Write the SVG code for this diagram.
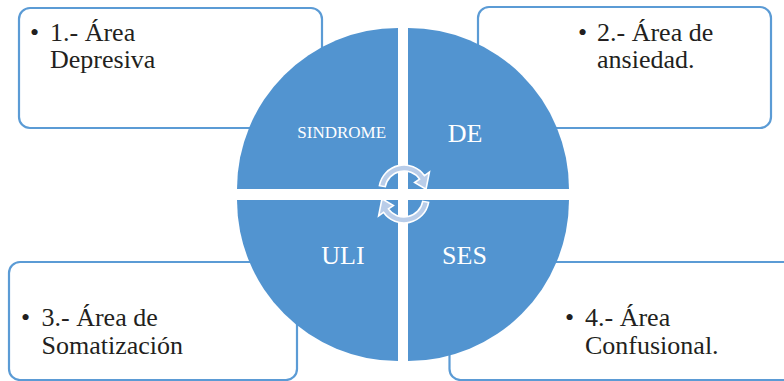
<svg xmlns="http://www.w3.org/2000/svg" width="784" height="381" viewBox="0 0 784 381">
<style>
.box{fill:#ffffff;stroke:#5b9bd5;stroke-width:2.2}
.q{fill:#5294d0}
.t{font-family:"Liberation Serif","Times New Roman",serif;font-size:26px;fill:#231f20}
.ql{font-family:"Liberation Serif","Times New Roman",serif;font-size:26px;fill:#ffffff;text-anchor:middle}
.arr{fill:#b9cde9;stroke:#ffffff;stroke-width:1.6;stroke-linejoin:miter}
</style>
<rect width="784" height="381" fill="#ffffff"/>
<g id="box1">
<rect class="box" x="19" y="8" width="303" height="120" rx="11"/>
<text class="t" x="30" y="41">•</text>
<text class="t" x="50" y="41">1.- Área</text>
<text class="t" x="50" y="68.3">Depresiva</text>
</g>
<g id="box2">
<rect class="box" x="478" y="7" width="293" height="121" rx="11"/>
<text class="t" x="578" y="40.5">•</text>
<text class="t" x="597" y="40.5">2.- Área de</text>
<text class="t" x="597" y="67.5">ansiedad.</text>
</g>
<g id="box3">
<rect class="box" x="9" y="262" width="288" height="118" rx="11"/>
<text class="t" x="21" y="326">•</text>
<text class="t" x="41.5" y="326">3.- Área de</text>
<text class="t" x="41.5" y="353.7">Somatización</text>
</g>
<g id="box4">
<rect class="box" x="449.5" y="262" width="345" height="118" rx="11"/>
<text class="t" x="565" y="326">•</text>
<text class="t" x="585" y="326">4.- Área</text>
<text class="t" x="585" y="353.7">Confusional.</text>
</g>
<g id="q-sindrome">
<path class="q" d="M398,189 L237,189 A161,161 0 0 1 398,28 Z"/>
<text class="ql" x="341.7" y="138.3" style="font-size:17px">SINDROME</text>
</g>
<g id="q-de">
<path class="q" d="M408,189 L408,28 A161,161 0 0 1 569,189 Z"/>
<text class="ql" x="465" y="141.7">DE</text>
</g>
<g id="q-ses">
<path class="q" d="M408,200 L569,200 A161,161 0 0 1 408,361 Z"/>
<text class="ql" x="464.5" y="264.3">SES</text>
</g>
<g id="q-uli">
<path class="q" d="M398,200 L398,361 A161,161 0 0 1 237,200 Z"/>
<text class="ql" x="343" y="264.3">ULI</text>
</g>
<g id="connectors">
<path class="arr" d="M379.4,185.7 A25,25 0 0 1 424.5,175.7 L429.4,172.2 L426,189.2 L414.6,182.5 L419.6,179.1 A19,19 0 0 0 385.3,186.7 Z"/>
<path class="arr" d="M428.6,202.3 A25,25 0 0 1 383.5,212.3 L378.6,215.8 L382,198.8 L393.4,205.5 L388.4,208.9 A19,19 0 0 0 422.7,201.3 Z"/>
</g>
</svg>
